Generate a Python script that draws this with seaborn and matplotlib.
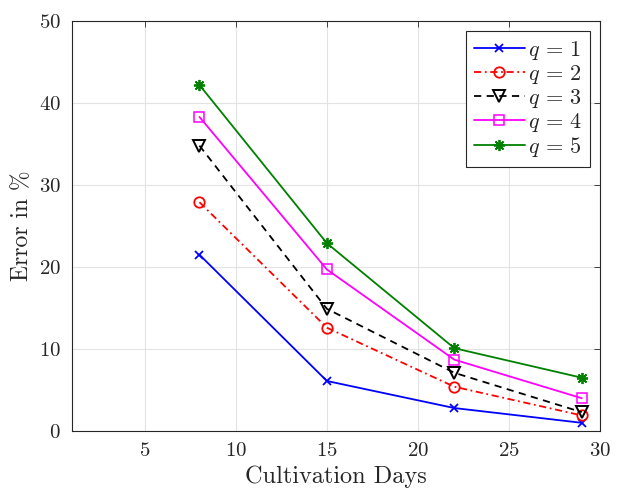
import matplotlib
matplotlib.use("Agg")
import matplotlib.pyplot as plt
import seaborn as sns
import pandas as pd

# data
days = [8, 15, 22, 29]
err_q1 = [21.5, 6.1, 2.8, 1.0]
err_q2 = [27.9, 12.6, 5.4, 1.9]
err_q3 = [34.8, 14.9, 7.1, 2.3]
err_q4 = [38.3, 19.7, 8.7, 4.0]
err_q5 = [42.2, 22.9, 10.1, 6.5]
labels = [r"$q\,=\,1$", r"$q\,=\,2$", r"$q\,=\,3$", r"$q\,=\,4$", r"$q\,=\,5$"]

sns.set_style("whitegrid")
plt.rcParams["font.family"] = ["cmr10", "DejaVu Serif"]
plt.rcParams["mathtext.fontset"] = "cm"
plt.rcParams["axes.formatter.use_mathtext"] = True

styles = [
    dict(color="#0000ff", linestyle="-", marker="x", markersize=6, mew=1.3),
    dict(color="#ff0000", linestyle=(0, (4, 2, 1, 2)), marker="o", markersize=7.5, mfc="none", mew=1.3),
    dict(color="#000000", linestyle=(0, (4, 3)), marker="v", markersize=8.5, mfc="none", mew=1.4),
    dict(color="#ff00ff", linestyle="-", marker="s", markersize=6.5, mfc="none", mew=1.1),
    dict(color="#008000", linestyle="-", marker=(8, 2, 0), markersize=8, mew=1.3),
]

fig = plt.figure(figsize=(6.17, 4.94), dpi=100)
ax = fig.add_axes([0.1167, 0.1275, 0.8557, 0.83])

series = [err_q1, err_q2, err_q3, err_q4, err_q5]
for vals, lab, st in zip(series, labels, styles):
    df = pd.DataFrame({"day": days, "err": vals})
    # seaborn paints marker edges white by default, so set them explicitly
    sns.lineplot(data=df, x="day", y="err", ax=ax, label=lab, lw=1.3,
                 mec=st["color"], **st)

ax.set_xlim(1, 30)
ax.set_ylim(0, 50)
ax.set_xticks([5, 10, 15, 20, 25, 30])
ax.set_yticks([0, 10, 20, 30, 40, 50])
ax.grid(True, color="#e3e3e3", lw=0.8)
for sp in ax.spines.values():
    sp.set_color("#262626")
    sp.set_linewidth(0.8)
ax.tick_params(direction="in", length=4, width=0.6, color="#262626",
               top=True, right=True, labelsize=15, pad=8)
ax.set_xlabel("Cultivation Days", fontsize=17.5, labelpad=4)
ax.set_ylabel("Error in %", fontsize=17, labelpad=4)

leg = ax.legend(loc="upper right", fontsize=16, frameon=True, fancybox=False,
                edgecolor="#262626", framealpha=1, handlelength=2.3,
                borderpad=0.35, labelspacing=0.05, handletextpad=0.15,
                borderaxespad=0.45)
leg.get_frame().set_linewidth(0.8)

fig.savefig("out.png", dpi=100)
